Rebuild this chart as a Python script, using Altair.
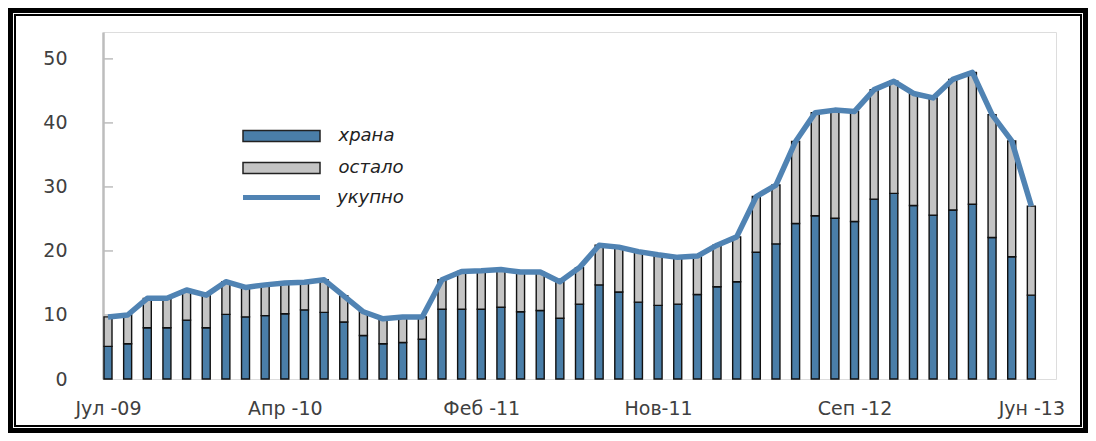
import altair as alt
import pandas as pd

# ---- data ----
HRANA = [5.1, 5.5, 8.0, 8.0, 9.2, 8.0, 10.1, 9.7, 9.9, 10.2, 10.8, 10.4,
         8.9, 6.8, 5.5, 5.7, 6.2, 10.9, 10.9, 10.9, 11.2, 10.5, 10.7, 9.5,
         11.7, 14.7, 13.6, 12.0, 11.5, 11.7, 13.2, 14.4, 15.2, 19.8, 21.1, 24.3,
         25.5, 25.1, 24.6, 28.1, 29.0, 27.1, 25.6, 26.4, 27.3, 22.1, 19.1, 13.1]
OSTALO = [4.6, 4.5, 4.6, 4.6, 4.7, 5.1, 5.1, 4.6, 4.8, 4.8, 4.3, 5.1,
          4.1, 3.7, 3.9, 4.0, 3.5, 4.6, 5.9, 6.0, 5.9, 6.2, 6.0, 5.7,
          5.7, 6.2, 7.0, 7.9, 7.9, 7.3, 6.0, 6.5, 7.0, 8.7, 9.2, 12.8,
          16.1, 16.9, 17.2, 17.1, 17.5, 17.5, 18.3, 20.4, 20.6, 19.2, 18.1, 13.9]
UKUPNO = [9.7, 10.0, 12.6, 12.6, 13.9, 13.1, 15.2, 14.3, 14.7, 15.0, 15.1, 15.5,
          13.0, 10.5, 9.4, 9.7, 9.7, 15.5, 16.8, 16.9, 17.1, 16.7, 16.7, 15.2,
          17.4, 20.9, 20.6, 19.9, 19.4, 19.0, 19.2, 20.9, 22.2, 28.5, 30.3, 37.1,
          41.6, 42.0, 41.8, 45.2, 46.5, 44.6, 43.9, 46.8, 47.9, 41.3, 37.2, 27.0]
SERIES = ["храна", "остало", "укупно"]
TICK_POS = [0, 9, 19, 28, 38, 47]
TICK_LABELS = ["Јул -09", "Апр -10", "Феб -11", "Нов-11", "Сеп -12", "Јун -13"]
Y_TICKS = [0, 10, 20, 30, 40, 50]

BLUE = "#4a7ea8"
GRAY = "#c4c4c4"
LINE = "#5083b3"
FONT = "DejaVu Sans"

# ---- tables ----
rows = []
for i, (h, o) in enumerate(zip(HRANA, OSTALO)):
    rows.append({"idx": i, "series": SERIES[0], "start": 0.0, "end": h})
    rows.append({"idx": i, "series": SERIES[1], "start": h, "end": h + o})
bars_df = pd.DataFrame(rows)
line_df = pd.DataFrame({"idx": list(range(len(UKUPNO))), "total": UKUPNO,
                        "name": SERIES[2]})
ticks_df = pd.DataFrame({"v": Y_TICKS})
frame_df = pd.DataFrame({"k": [0]})

W, H = 953, 347
PAD = {"left": 95, "top": 24, "right": 32, "bottom": 54}

xs = alt.Scale(domain=[0, 48], nice=False, zero=False)
ys = alt.Scale(domain=[0, 54.2], nice=False)

label_expr = "[" + ",".join(f"'{t}'" for t in TICK_LABELS) + "][indexof([" + \
    ",".join(str(p) for p in TICK_POS) + "], datum.value)]"

x_axis = alt.Axis(values=TICK_POS, labelExpr=label_expr, ticks=False, domain=False,
                  grid=False, labelPadding=20, labelFontSize=19, labelColor="#404040",
                  labelFlush=False, labelOverlap=False, title=None, labelFont=FONT)
y_axis = alt.Axis(values=Y_TICKS, ticks=False, grid=False, domain=True,
                  domainColor="#bdbdbd", domainWidth=2.5, labelPadding=36,
                  labelFontSize=19, labelColor="#404040", labelFlush=False,
                  title=None, labelFont=FONT)

RECT_PATH = "M-3.85,-0.55L3.85,-0.55L3.85,0.55L-3.85,0.55Z"
LINE_PATH = "M-3.85,0L3.85,0"

bars = alt.Chart(bars_df).mark_bar(size=8, stroke="#111111", strokeWidth=1.4).encode(
    x=alt.X("idx:Q", scale=xs, axis=x_axis),
    y=alt.Y("start:Q", scale=ys, axis=y_axis),
    y2="end:Q",
    fill=alt.Fill("series:N", scale=alt.Scale(domain=SERIES[:2], range=[BLUE, GRAY]),
                  sort=SERIES[:2],
                  legend=alt.Legend(title=None, orient="none", legendX=140, legendY=93,
                                    symbolType=RECT_PATH, symbolSize=400,
                                    symbolStrokeWidth=1.5, symbolStrokeColor="#222222",
                                    symbolOffset=27.5, labelOffset=46, rowPadding=12,
                                    labelFont=FONT, labelFontSize=18,
                                    labelFontStyle="italic", labelColor="#222222")),
)

line = alt.Chart(line_df).mark_line(strokeWidth=5.5, strokeJoin="round").encode(
    x=alt.X("idx:Q", scale=xs),
    y=alt.Y("total:Q", scale=ys),
    stroke=alt.Stroke("name:N", scale=alt.Scale(domain=SERIES[2:], range=[LINE]),
                      legend=alt.Legend(title=None, orient="none", legendX=140, legendY=153,
                                        symbolType=LINE_PATH, symbolSize=400,
                                        symbolStrokeWidth=5, symbolOffset=26,
                                        labelOffset=43, labelFont=FONT, labelFontSize=18,
                                        labelFontStyle="italic", labelColor="#222222")),
)

yticks = alt.Chart(ticks_df).mark_rule(color="#bdbdbd", strokeWidth=1.5).encode(
    y=alt.Y("v:Q", scale=ys),
    x=alt.value(0), x2=alt.value(10),
)

outer = alt.Chart(frame_df).mark_rect(fill="transparent", stroke="black", strokeWidth=5).encode(
    x=alt.value(-PAD["left"] + 2.5), x2=alt.value(W + PAD["right"] - 2.5),
    y=alt.value(-PAD["top"] + 2.5), y2=alt.value(H + PAD["bottom"] - 2.5),
)
inner = alt.Chart(frame_df).mark_rect(fill="transparent", stroke="black", strokeWidth=2).encode(
    x=alt.value(-PAD["left"] + 7), x2=alt.value(W + PAD["right"] - 7),
    y=alt.value(-PAD["top"] + 7), y2=alt.value(H + PAD["bottom"] - 7),
)

chart = alt.layer(yticks, bars, line, outer, inner).resolve_legend(
    fill="independent", stroke="independent"
).properties(
    width=W, height=H, padding=PAD, autosize=alt.AutoSizeParams(type="none"),
    background="white",
).configure_view(stroke="#c6c6c6", strokeWidth=1.5).configure(font=FONT)

chart.save("out.html", embed_options={"renderer": "svg", "actions": False})
